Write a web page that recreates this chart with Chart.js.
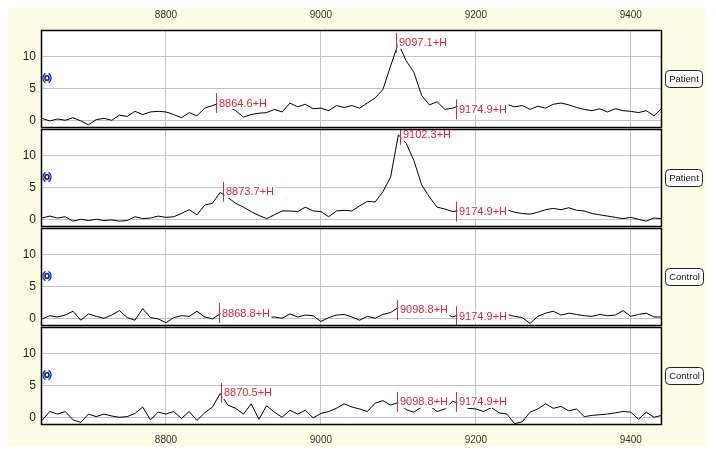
<!DOCTYPE html>
<html>
<head>
<meta charset="utf-8">
<script src="https://cdn.jsdelivr.net/npm/chart.js@4.4.0/dist/chart.umd.min.js"></script>
<style>
  body { margin: 0; background: #fff; }
  #wrap { position: relative; width: 716px; height: 455px; overflow: hidden; }
  #bg { position: absolute; left: 8px; top: 8px; width: 698px; height: 438px; background: #fdfde6; }
  canvas { position: absolute; left: 0; }
</style>
</head>
<body>
<div id="wrap">
  <div id="bg"></div>
  <canvas id="c0"></canvas>
  <canvas id="c1"></canvas>
  <canvas id="c2"></canvas>
  <canvas id="c3"></canvas>
</div>
<script>
// mass axis (shared by all four traces)
const massX = [
  8640, 8650, 8660, 8670, 8680, 8690, 8700, 8710, 8720, 8730,
  8740, 8750, 8760, 8770, 8780, 8790, 8800, 8810, 8820, 8830,
  8840, 8850, 8860, 8870, 8880, 8890, 8900, 8910, 8920, 8930,
  8940, 8950, 8960, 8970, 8980, 8990, 9000, 9010, 9020, 9030,
  9040, 9050, 9060, 9070, 9080, 9090, 9100, 9110, 9120, 9130,
  9140, 9150, 9160, 9170, 9180, 9190, 9200, 9210, 9220, 9230,
  9240, 9250, 9260, 9270, 9280, 9290, 9300, 9310, 9320, 9330,
  9340, 9350, 9360, 9370, 9380, 9390, 9400, 9410, 9420, 9430,
  9440
];

const patientA = [
  0.4, 0.0, 0.3, 0.1, 0.5, 0.0, -0.6, 0.2, 0.4, 0.1,
  0.9, 0.7, 1.5, 1.0, 1.4, 1.5, 1.4, 1.0, 0.5, 1.3,
  0.8, 2.0, 2.4, 2.8, 2.2, 1.6, 0.6, 1.0, 1.2, 1.3,
  1.8, 1.4, 2.8, 2.2, 2.6, 1.9, 2.0, 1.6, 2.4, 2.1,
  2.4, 2.0, 2.8, 3.6, 4.9, 8.6, 12.1, 9.4, 7.6, 4.0,
  2.5, 3.0, 1.8, 2.0, 2.4, 2.2, 2.1, 2.2, 2.0, 2.3,
  2.6, 2.2, 2.4, 1.8, 2.3, 2.0, 2.6, 2.8, 2.5, 2.1,
  1.8, 1.6, 1.9, 1.4, 1.9, 1.6, 1.5, 1.3, 1.6, 0.8,
  2.0
];

const patientB = [
  0.3, 0.6, 0.3, 0.5, -0.2, 0.1, -0.1, 0.1, -0.1, 0.0,
  -0.2, -0.1, 0.5, 0.2, 0.3, 0.6, 0.4, 0.5, 1.0, 1.6,
  0.8, 2.3, 2.6, 4.3, 3.5, 2.6, 2.0, 1.3, 0.7, 0.2,
  0.8, 1.4, 1.4, 1.3, 2.0, 1.4, 1.3, 0.5, 1.4, 1.5,
  1.4, 2.2, 2.9, 2.8, 4.4, 6.7, 13.3, 12.0, 9.3, 5.5,
  3.6, 2.0, 1.7, 1.3, 1.5, 1.5, 1.6, 1.4, 1.5, 1.3,
  1.6, 1.2, 1.0, 0.9, 1.2, 1.6, 1.8, 1.6, 1.9, 1.5,
  1.4, 1.0, 0.8, 0.6, 0.4, 0.2, 0.4, 0.1, -0.2, 0.3,
  0.2
];

const controlA = [
  0.0, 0.5, 0.3, 0.6, 1.2, -0.2, 0.8, 0.4, 0.1, 0.6,
  1.3, 0.2, -0.2, 1.6, 0.2, 0.0, -0.6, 0.2, 0.5, 0.4,
  1.2, 0.3, 0.0, 0.8, 1.2, 0.9, 1.0, 0.5, 0.8, 0.2,
  0.3, 0.1, 0.8, 0.3, 0.6, 0.5, -0.4, 0.2, 0.6, 0.7,
  0.3, -0.2, 0.4, 0.1, 0.7, 1.0, 1.8, 1.2, 1.0, 0.9,
  1.1, 1.0, 0.9, 0.3, 0.8, 0.6, 0.7, 0.9, 0.6, 0.8,
  0.7, 0.4, 0.2, -0.7, 0.4, 0.9, 1.2, 0.6, 0.9, 0.7,
  0.5, 0.4, 0.7, 0.5, 0.6, 1.3, 0.4, 0.7, 0.9, 0.3,
  0.3
];

const controlB = [
  -0.4, 1.0, 0.6, 1.0, -0.3, -0.7, 0.6, 0.2, 0.6, 0.3,
  0.1, 0.2, 0.7, 1.7, -0.3, 0.9, 0.6, 1.0, -0.1, 1.0,
  -0.4, 0.8, 1.7, 3.8, 2.0, 1.5, 0.6, 2.2, -0.2, 1.9,
  0.9, 0.1, 1.2, 0.6, 1.2, 0.0, 0.7, 1.0, 1.5, 2.2,
  1.7, 1.4, 1.0, 2.3, 2.7, 2.0, 2.4, 1.3, 0.9, 1.7,
  1.9, 1.0, 1.4, 2.6, 2.2, 1.5, 1.4, 1.0, 1.6, 0.8,
  0.6, -0.9, -0.6, 0.9, 1.4, 2.2, 1.5, 1.8, 1.1, 1.4,
  0.2, 0.4, 0.5, 0.6, 0.8, 1.0, 0.9, -0.2, 0.9, 0.1,
  0.4
];

const traceNames = ['Patient', 'Patient', 'Control', 'Control'];
const traces = [patientA, patientB, controlA, controlB];

// peak markers: mass and the intensity where the tick is centred
const markerMass = [
  [8864.6, 9097.1, 9174.9],
  [8873.7, 9102.3, 9174.9],
  [8868.8, 9098.8, 9174.9],
  [8870.5, 9098.8, 9174.9]
];
const markerLevel = [
  [2.8, 12.2, 1.8],
  [4.4, 13.3, 1.3],
  [0.9, 1.4, 0.4],
  [3.9, 2.5, 2.5]
];

const xTicks = [8800, 9000, 9200, 9400];
const yTicks = [0, 5, 10];

/* ---------------- layout ---------------- */
const panelTops = [31, 130, 229, 328];
const plotH = 96;
const RED = '#d9263a';

function panelPlugin(i) {
  return {
    id: 'panel' + i,
    beforeDraw(chart) {
      const { ctx, chartArea: a } = chart;
      ctx.save();
      ctx.fillStyle = '#fff';
      ctx.fillRect(a.left, a.top, a.right - a.left, a.bottom - a.top);
      ctx.restore();
    },
    afterDatasetsDraw(chart) {
      const { ctx, chartArea: a } = chart;
      const xs = chart.scales.x, ys = chart.scales.y;
      ctx.save();
      ctx.beginPath();
      ctx.rect(a.left, a.top, a.right - a.left, a.bottom - a.top);
      ctx.clip();
      ctx.font = '11px "Liberation Sans", Arial, sans-serif';
      ctx.textBaseline = 'middle';
      markerMass[i].forEach((m, k) => {
        const px = Math.round(xs.getPixelForValue(m)) + 0.5;
        const py = ys.getPixelForValue(markerLevel[i][k]);
        const txt = m.toFixed(1) + '+H';
        const w = ctx.measureText(txt).width;
        ctx.fillStyle = '#fff';
        ctx.fillRect(px + 1, py - 6, w + 3, 12);
        ctx.strokeStyle = RED;
        ctx.lineWidth = 1;
        ctx.beginPath();
        ctx.moveTo(px, py - 10);
        ctx.lineTo(px, py + 10);
        ctx.stroke();
        ctx.fillStyle = RED;
        ctx.fillText(txt, px + 2.5, py + 0.5);
      });
      ctx.restore();
    },
    afterDraw(chart) {
      const { ctx, chartArea: a } = chart;
      const mid = (a.top + a.bottom) / 2 - 1;
      ctx.save();
      // frame
      ctx.strokeStyle = '#000';
      ctx.lineWidth = 1.5;
      ctx.strokeRect(a.left - 0.5, a.top - 0.5, a.right - a.left + 1, a.bottom - a.top + 1);

      // little blue icon on the left edge
      const cx = a.left + 5;
      ctx.strokeStyle = '#1b2c9e';
      ctx.lineWidth = 1.8;
      ctx.beginPath();
      ctx.ellipse(cx, mid, 2, 2.3, 0, 0, Math.PI * 2);
      ctx.stroke();
      ctx.lineWidth = 1.4;
      ctx.beginPath();
      ctx.ellipse(cx, mid, 4, 5, 0, Math.PI * 0.62, Math.PI * 1.38);
      ctx.stroke();
      ctx.beginPath();
      ctx.ellipse(cx, mid, 4, 5, 0, -Math.PI * 0.38, Math.PI * 0.38);
      ctx.stroke();

      // name tag on the right
      ctx.font = '9.5px "Liberation Sans", Arial, sans-serif';
      const name = traceNames[i];
      const tw = ctx.measureText(name).width;
      const bw = Math.round(tw + 7), bh = 17;
      const bx = a.right + 4.5, by = Math.round(mid - bh / 2) + 0.5;
      ctx.beginPath();
      if (ctx.roundRect) ctx.roundRect(bx, by, bw, bh, 4);
      else ctx.rect(bx, by, bw, bh);
      ctx.fillStyle = '#fff';
      ctx.fill();
      ctx.strokeStyle = '#222';
      ctx.lineWidth = 1;
      ctx.stroke();
      ctx.fillStyle = '#111';
      ctx.textAlign = 'center';
      ctx.textBaseline = 'middle';
      ctx.fillText(name, bx + bw / 2, by + bh / 2 + 0.5);
      ctx.restore();
    }
  };
}

traces.forEach((vals, i) => {
  const isTop = i === 0, isBottom = i === traces.length - 1;
  const padTop = isTop ? 0 : 2;
  const padBot = isBottom ? 0 : 2;
  const axisTop = isTop ? 31 : 0;
  const axisBot = isBottom ? 31 : 0;

  const canvas = document.getElementById('c' + i);
  canvas.width = 716;
  canvas.height = plotH + padTop + padBot + axisTop + axisBot;
  canvas.style.top = (panelTops[i] - padTop - axisTop) + 'px';

  new Chart(canvas.getContext('2d'), {
    type: 'line',
    data: {
      datasets: [{
        data: massX.map((x, k) => ({ x, y: vals[k] })),
        borderColor: '#000',
        borderWidth: 1,
        pointRadius: 0,
        tension: 0,
        fill: false
      }]
    },
    options: {
      responsive: false,
      animation: false,
      events: [],
      layout: { padding: { left: 0, right: 55, top: padTop, bottom: padBot } },
      plugins: { legend: { display: false }, tooltip: { enabled: false } },
      scales: {
        x: {
          type: 'linear',
          position: isTop ? 'top' : 'bottom',
          min: 8640,
          max: 9439,
          afterBuildTicks: s => { s.ticks = xTicks.map(v => ({ value: v })); },
          afterFit: s => {
            s.height = isTop ? axisTop : axisBot;
            s.paddingLeft = 0; s.paddingRight = 0;
          },
          ticks: {
            display: isTop || isBottom,
            callback: v => String(v),
            color: '#333',
            padding: 10,
            font: { family: '"Liberation Sans", Arial, sans-serif', size: 10 }
          },
          grid: { color: '#c4c4c4', drawTicks: false },
          border: { display: false }
        },
        y: {
          min: -0.95,
          max: 14.05,
          afterBuildTicks: s => { s.ticks = yTicks.map(v => ({ value: v })); },
          afterFit: s => {
            s.width = 42;
            s.paddingTop = 0; s.paddingBottom = 0;
          },
          ticks: {
            callback: v => String(v),
            color: '#222',
            padding: 6,
            font: { family: '"Liberation Sans", Arial, sans-serif', size: 12 }
          },
          grid: { color: '#c4c4c4', drawTicks: false },
          border: { display: false }
        }
      }
    },
    plugins: [panelPlugin(i)]
  });
});
</script>
</body>
</html>
